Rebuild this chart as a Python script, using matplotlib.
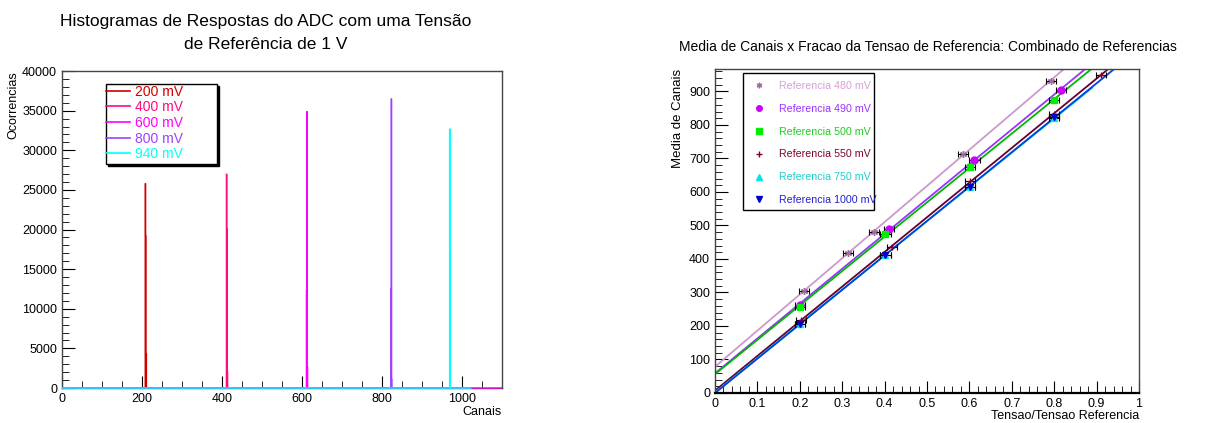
import numpy as np
import matplotlib
matplotlib.use('Agg')
import matplotlib.pyplot as plt
from matplotlib.ticker import MultipleLocator
from matplotlib.lines import Line2D
from matplotlib.patches import Rectangle

plt.rcParams['font.family'] = ['Liberation Sans', 'DejaVu Sans']

# ---- left panel: ADC histograms (1 V reference) ----
hist_labels = ['200 mV', '400 mV', '600 mV', '800 mV', '940 mV']
hist_colors = ['#d10000', '#ff0a80', '#ff00ff', '#a040ff', '#00ffff']
hist_bins = [[208, 209, 210], [411, 412, 413], [611, 612, 613], [822, 823, 824], [969, 970]]
hist_counts = [[25800, 19200, 4300], [27000, 20100, 2100], [12400, 34900, 2700],
               [12500, 36500, 1100], [32700, 17000]]
hist_nchan = [1024, 1024, 1100, 1024, 1024]

# ---- right panel: mean channel vs voltage fraction ----
ref_labels = ['Referencia 480 mV', 'Referencia 490 mV', 'Referencia 500 mV',
              'Referencia 550 mV', 'Referencia 750 mV', 'Referencia 1000 mV']
frac_480 = [0.21, 0.314, 0.376, 0.584, 0.792]
mean_480 = [305, 419, 480, 712, 932]
frac_490 = [0.2, 0.41, 0.612, 0.816]
mean_490 = [263, 490, 696, 905]
frac_500 = [0.2, 0.402, 0.601, 0.8]
mean_500 = [257, 474, 674, 874]
frac_550 = [0.202, 0.418, 0.601, 0.8, 0.91]
mean_550 = [217, 435, 634, 834, 948]
frac_750 = [0.2, 0.402, 0.601, 0.8]
mean_750 = [207, 412, 614, 821]
frac_1000 = [0.2, 0.402, 0.601, 0.8]
mean_1000 = [207, 411, 614, 824]
frac_err = 0.012

ref_fracs = [frac_480, frac_490, frac_500, frac_550, frac_750, frac_1000]
ref_means = [mean_480, mean_490, mean_500, mean_550, mean_750, mean_1000]
marker_colors = ['#9c6e9c', '#cc00ff', '#00ee00', '#800033', '#00e5e5', '#0000cc']
line_colors = ['#cc99cc', '#9933ff', '#00b800', '#660033', '#00cccc', '#0044dd']
text_colors = ['#d8a0d8', '#9933ff', '#22cc22', '#800033', '#22cccc', '#2222cc']
markers = [(6, 2, 0), 'o', 's', '+', '^', 'v']
fit_xmax = [1, 1, 1, 1, 0.89, 1]

fig = plt.figure(figsize=(12.19, 4.23), dpi=100)


def root_style(ax):
    ax.tick_params(which='both', direction='in', top=False, right=False, labelsize=9)
    ax.tick_params(which='major', length=9)
    ax.tick_params(which='minor', length=5)
    for s in ax.spines.values():
        s.set_linewidth(1.0)
        s.set_color('#444444')


# left
ax1 = fig.add_axes([0.0509, 0.0827, 0.3609, 0.7493])
for lab, col, b, c, n in zip(hist_labels, hist_colors, hist_bins, hist_counts, hist_nchan):
    h = np.zeros(n)
    h[b] = c
    ax1.stairs(h, np.arange(n + 1), color=col, lw=1.0, zorder=3, clip_on=False)
ax1.set_xlim(0, 1100)
ax1.set_ylim(0, 40000)
ax1.xaxis.set_major_locator(MultipleLocator(200))
ax1.xaxis.set_minor_locator(MultipleLocator(50))
ax1.yaxis.set_major_locator(MultipleLocator(5000))
ax1.yaxis.set_minor_locator(MultipleLocator(1000))
root_style(ax1)
ax1.set_xlabel('Canais', fontsize=9, loc='right', labelpad=1)
ax1.set_ylabel('Ocorrencias', fontsize=9, loc='top', labelpad=2)
fig.text(0.218, 0.968, 'Histogramas de Respostas do ADC com uma Tensão\nde Referência de 1 V',
         ha='center', va='top', fontsize=12.5, linespacing=1.7)

# legend box with ROOT-like shadow
ax1.add_patch(Rectangle((0.105, 0.70), 0.252, 0.252, transform=ax1.transAxes,
                        facecolor='black', edgecolor='black', zorder=4, clip_on=False))
ax1.add_patch(Rectangle((0.1, 0.707), 0.252, 0.252, transform=ax1.transAxes,
                        facecolor='white', edgecolor='black', lw=1.0, zorder=5, clip_on=False))
handles = [Line2D([], [], color=c, lw=1.2) for c in hist_colors]
leg1 = ax1.legend(handles, hist_labels, loc='upper left', bbox_to_anchor=(0.1, 0.957),
                  fontsize=10, frameon=False, borderpad=0, labelspacing=0.12,
                  handlelength=1.7, handletextpad=0.4, borderaxespad=0)
leg1.set_zorder(6)
for t, c in zip(leg1.get_texts(), hist_colors):
    t.set_color(c)

# right
ax2 = fig.add_axes([0.5865, 0.071, 0.3479, 0.766])
xs = np.linspace(0, 1, 200)
for fr, mn, mc, lc, mk, xm in zip(ref_fracs, ref_means, marker_colors, line_colors,
                                  markers, fit_xmax):
    p = np.polyfit(fr, mn, 1)
    xx = xs[xs <= xm]
    ax2.plot(xx, np.polyval(p, xx), color=lc, lw=1.3, zorder=2)
    ax2.errorbar(fr, mn, xerr=frac_err, fmt='none', ecolor='black', elinewidth=0.8,
                 capsize=2, capthick=0.8, zorder=3)
    ax2.plot(fr, mn, ls='none', marker=mk, color=mc, ms=5, mew=1.0, zorder=4)
ax2.set_xlim(0, 1)
ax2.set_ylim(0, 967)
ax2.xaxis.set_major_locator(MultipleLocator(0.1))
ax2.xaxis.set_minor_locator(MultipleLocator(0.02))
ax2.yaxis.set_major_locator(MultipleLocator(100))
ax2.yaxis.set_minor_locator(MultipleLocator(20))
ax2.xaxis.set_major_formatter(plt.FuncFormatter(lambda v, _: '%g' % round(v, 2)))
root_style(ax2)
ax2.spines['bottom'].set_linewidth(1.6)
ax2.spines['bottom'].set_color('black')
ax2.set_xlabel('Tensao/Tensao Referencia', fontsize=9, loc='right', labelpad=0)
ax2.set_ylabel('Media de Canais', fontsize=9.5, loc='top', labelpad=4)
fig.text(0.761, 0.889, 'Media de Canais x Fracao da Tensao de Referencia: Combinado de Referencias',
         ha='center', va='center', fontsize=10)

ax2.add_patch(Rectangle((0.066, 0.565), 0.309, 0.423, transform=ax2.transAxes,
                        facecolor='white', edgecolor='black', lw=1.0, zorder=5, clip_on=False))
handles2 = [Line2D([], [], ls='none', marker=mk, color=mc, ms=4, mew=1.0)
            for mk, mc in zip(markers, marker_colors)]
leg2 = ax2.legend(handles2, ref_labels, loc='upper left', bbox_to_anchor=(0.091, 0.963),
                  fontsize=7.7, frameon=False, borderpad=0, labelspacing=1.2,
                  handlelength=1.0, handletextpad=1.4, borderaxespad=0)
leg2.set_zorder(6)
for t, c in zip(leg2.get_texts(), text_colors):
    t.set_color(c)

fig.savefig('out.png', dpi=100)
